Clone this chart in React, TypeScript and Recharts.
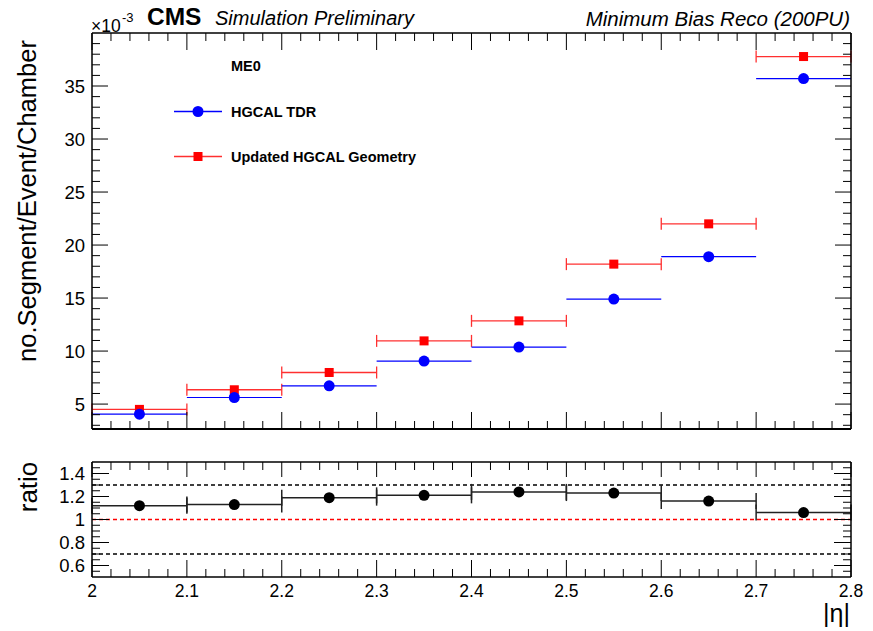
import React from "react";
import { ComposedChart, Scatter, XAxis, YAxis, ErrorBar, ReferenceLine } from "recharts";

// |eta| bins (centre and half width)
const binCenters = [2.05, 2.15, 2.25, 2.35, 2.45, 2.55, 2.65, 2.75];
const binHalfWidths = [0.05, 0.05, 0.05, 0.05, 0.05, 0.05, 0.05, 0.05];

// no.Segment/Event/Chamber, in units of 1e-3
const hgcalTdr = [4.05, 5.62, 6.72, 9.06, 10.38, 14.9, 18.9, 35.7];
const updatedGeometry = [4.5, 6.35, 7.98, 10.96, 12.85, 18.2, 22.0, 37.78];

// updated / TDR
const ratioValues = [1.12, 1.13, 1.19, 1.21, 1.24, 1.23, 1.16, 1.06];

const xMajorTicks = [2, 2.1, 2.2, 2.3, 2.4, 2.5, 2.6, 2.7, 2.8];
const xTickLabels = ["2", "2.1", "2.2", "2.3", "2.4", "2.5", "2.6", "2.7", "2.8"];
const yMajorTicks = [5, 10, 15, 20, 25, 30, 35];
const yTickLabels = ["5", "10", "15", "20", "25", "30", "35"];
const ratioMajorTicks = [0.6, 0.8, 1, 1.2, 1.4];
const ratioTickLabels = ["0.6", "0.8", "1", "1.2", "1.4"];
const ratioBandLines = [0.7, 1.3];

const FONT = '"Liberation Sans", Arial, Helvetica, sans-serif';

// minor tick positions (not data, only axis decoration)
const range = (start: number, stop: number, step: number) => {
    const out: number[] = [];
    const n = Math.round((stop - start) / step);
    for (let i = 0; i <= n; i++) out.push(+(start + i * step).toFixed(4));
    return out;
};
const xAllTicks = range(2, 2.8, 0.02);
const yAllTicks = range(3, 39, 1);
const ratioAllTicks = range(0.55, 1.45, 0.05);

const tdrData = binCenters.map((x, i) => ({ x, y: hgcalTdr[i], xErr: binHalfWidths[i] }));
const updData = binCenters.map((x, i) => ({ x, y: updatedGeometry[i], xErr: binHalfWidths[i] }));
const ratioData = binCenters.map((x, i) => ({ x, y: ratioValues[i], xErr: binHalfWidths[i] }));

type Side = "bottom" | "top" | "left" | "right";

const makeTick = (side: Side, majors: number[], labels: string[] | null, majorLen: number, minorLen: number) => {
    return (props: any) => {
        const { x, y, payload } = props;
        const v = payload.value;
        const idx = majors.findIndex(m => Math.abs(m - v) < 1e-6);
        const len = idx >= 0 ? majorLen : minorLen;
        let line;
        if (side === "bottom") line = <line x1={x} y1={y} x2={x} y2={y - len} stroke="#000" strokeWidth={1} />;
        else if (side === "top") line = <line x1={x} y1={y} x2={x} y2={y + len} stroke="#000" strokeWidth={1} />;
        else if (side === "left") line = <line x1={x} y1={y} x2={x + len} y2={y} stroke="#000" strokeWidth={1} />;
        else line = <line x1={x} y1={y} x2={x - len} y2={y} stroke="#000" strokeWidth={1} />;

        let label = null;
        if (labels && idx >= 0) {
            if (side === "bottom") {
                label = <text x={x} y={y + 20} textAnchor="middle" fontSize={17.5} fontFamily={FONT} fill="#000">{labels[idx]}</text>;
            } else if (side === "left") {
                label = <text x={x - 7} y={y + 6.5} textAnchor="end" fontSize={18.5} fontFamily={FONT} fill="#000">{labels[idx]}</text>;
            }
        }
        return <g>{line}{label}</g>;
    };
};

const axisLine = { stroke: "#000", strokeWidth: 1.5 };

const App: React.FC = () => {
    return (
        <div style={{ position: "absolute", left: 0, top: 0, width: 873, height: 631, background: "#fff", fontFamily: FONT }}>
            {/* upper pad */}
            <div style={{ position: "absolute", left: 0, top: 0 }}>
                <ComposedChart width={873} height={440} margin={{ top: 23, right: 0, bottom: 0, left: 0 }}>
                    <XAxis xAxisId="b" dataKey="x" type="number" domain={[2, 2.8]} allowDataOverflow orientation="bottom"
                        height={11} ticks={xAllTicks} interval={0} tickSize={0} tickMargin={0} tickLine={false}
                        axisLine={{ stroke: "#000", strokeWidth: 2 }} tick={makeTick("bottom", xMajorTicks, null, 17, 8)} />
                    <XAxis xAxisId="t" dataKey="x" type="number" domain={[2, 2.8]} allowDataOverflow orientation="top"
                        height={10} ticks={xAllTicks} interval={0} tickSize={0} tickMargin={0} tickLine={false}
                        axisLine={axisLine} tick={makeTick("top", xMajorTicks, null, 17, 8)} />
                    <YAxis yAxisId="l" dataKey="y" type="number" domain={[2.65, 40]} allowDataOverflow orientation="left"
                        width={92} ticks={yAllTicks} interval={0} tickSize={0} tickMargin={0} tickLine={false}
                        axisLine={axisLine} tick={makeTick("left", yMajorTicks, yTickLabels, 16, 8)} />
                    <YAxis yAxisId="r" dataKey="y" type="number" domain={[2.65, 40]} allowDataOverflow orientation="right"
                        width={22} ticks={yAllTicks} interval={0} tickSize={0} tickMargin={0} tickLine={false}
                        axisLine={axisLine} tick={makeTick("right", yMajorTicks, null, 16, 8)} />
                    <Scatter data={updData} xAxisId="b" yAxisId="l" isAnimationActive={false}
                        shape={(p: any) => <rect x={p.cx - 4.5} y={p.cy - 4.5} width={9} height={9} fill="#ff0000" />}>
                        <ErrorBar dataKey="xErr" direction="x" width={6} stroke="#ff3030" strokeWidth={1.3} isAnimationActive={false} />
                    </Scatter>
                    <Scatter data={tdrData} xAxisId="b" yAxisId="l" isAnimationActive={false}
                        shape={(p: any) => <circle cx={p.cx} cy={p.cy} r={5.5} fill="#0000ff" />}>
                        <ErrorBar dataKey="xErr" direction="x" width={0} stroke="#0000ff" strokeWidth={1.2} isAnimationActive={false} />
                    </Scatter>
                </ComposedChart>
            </div>

            {/* ratio pad */}
            <div style={{ position: "absolute", left: 0, top: 440 }}>
                <ComposedChart width={873} height={191} margin={{ top: 12, right: 0, bottom: 0, left: 0 }}>
                    <XAxis xAxisId="b" dataKey="x" type="number" domain={[2, 2.8]} allowDataOverflow orientation="bottom"
                        height={54} ticks={xAllTicks} interval={0} tickSize={0} tickMargin={0} tickLine={false}
                        axisLine={axisLine} tick={makeTick("bottom", xMajorTicks, xTickLabels, 17, 8)} />
                    <XAxis xAxisId="t" dataKey="x" type="number" domain={[2, 2.8]} allowDataOverflow orientation="top"
                        height={10} ticks={xAllTicks} interval={0} tickSize={0} tickMargin={0} tickLine={false}
                        axisLine={axisLine} tick={makeTick("top", xMajorTicks, null, 15, 8)} />
                    <YAxis yAxisId="l" dataKey="y" type="number" domain={[0.5, 1.5]} allowDataOverflow orientation="left"
                        width={92} ticks={ratioAllTicks} interval={0} tickSize={0} tickMargin={0} tickLine={false}
                        axisLine={axisLine} tick={makeTick("left", ratioMajorTicks, ratioTickLabels, 17, 8)} />
                    <YAxis yAxisId="r" dataKey="y" type="number" domain={[0.5, 1.5]} allowDataOverflow orientation="right"
                        width={22} ticks={ratioAllTicks} interval={0} tickSize={0} tickMargin={0} tickLine={false}
                        axisLine={axisLine} tick={makeTick("right", ratioMajorTicks, null, 17, 8)} />
                    {ratioBandLines.map(v => (
                        <ReferenceLine key={v} y={v} xAxisId="b" yAxisId="l" stroke="#000" strokeWidth={1.4} strokeDasharray="4 3" />
                    ))}
                    <ReferenceLine y={1} xAxisId="b" yAxisId="l" stroke="#ff0000" strokeWidth={1.6} strokeDasharray="4 3" />
                    <Scatter data={ratioData} xAxisId="b" yAxisId="l" isAnimationActive={false}
                        shape={(p: any) => <circle cx={p.cx} cy={p.cy} r={5.5} fill="#000" />}>
                        <ErrorBar dataKey="xErr" direction="x" width={8} stroke="#222" strokeWidth={1.5} isAnimationActive={false} />
                    </Scatter>
                </ComposedChart>
            </div>

            {/* titles and legend */}
            <svg width={873} height={631} style={{ position: "absolute", left: 0, top: 0, pointerEvents: "none" }}>
                <text x={91} y={32} fontSize={17.5} fontFamily={FONT} fill="#000">×10</text>
                <text x={122} y={22} fontSize={13} fontFamily={FONT} fill="#000">-3</text>
                <text x={147} y={25} fontSize={24.5} fontWeight="bold" fontFamily={FONT} fill="#000">CMS</text>
                <text x={215} y={25} fontSize={20} fontStyle="italic" fontFamily={FONT} fill="#000">Simulation Preliminary</text>
                <text x={850} y={26} fontSize={20.5} fontStyle="italic" textAnchor="end" fontFamily={FONT} fill="#000">Minimum Bias Reco (200PU)</text>

                <text transform="translate(36,201) rotate(-90)" textAnchor="middle" fontSize={25.5} fontFamily={FONT} fill="#000">no.Segment/Event/Chamber</text>
                <text transform="translate(37,487) rotate(-90)" textAnchor="middle" fontSize={26} fontFamily={FONT} fill="#000">ratio</text>
                <text x={850} y={622} textAnchor="end" fontSize={25} fontFamily={FONT} fill="#000">|η|</text>

                <text x={231} y={71} fontSize={14.5} fontWeight="bold" fontFamily={FONT} fill="#000">ME0</text>
                <line x1={174} y1={111.5} x2={222} y2={111.5} stroke="#0000ff" strokeWidth={1.5} />
                <circle cx={198} cy={111.5} r={5.5} fill="#0000ff" />
                <text x={231} y={117} fontSize={14.5} fontWeight="bold" fontFamily={FONT} fill="#000">HGCAL TDR</text>
                <line x1={174} y1={156.5} x2={222} y2={156.5} stroke="#ff3030" strokeWidth={1.5} />
                <rect x={193.5} y={152} width={9} height={9} fill="#ff0000" />
                <text x={231} y={162} fontSize={14.5} fontWeight="bold" fontFamily={FONT} fill="#000">Updated HGCAL Geometry</text>
            </svg>
        </div>
    );
};

export default App;
